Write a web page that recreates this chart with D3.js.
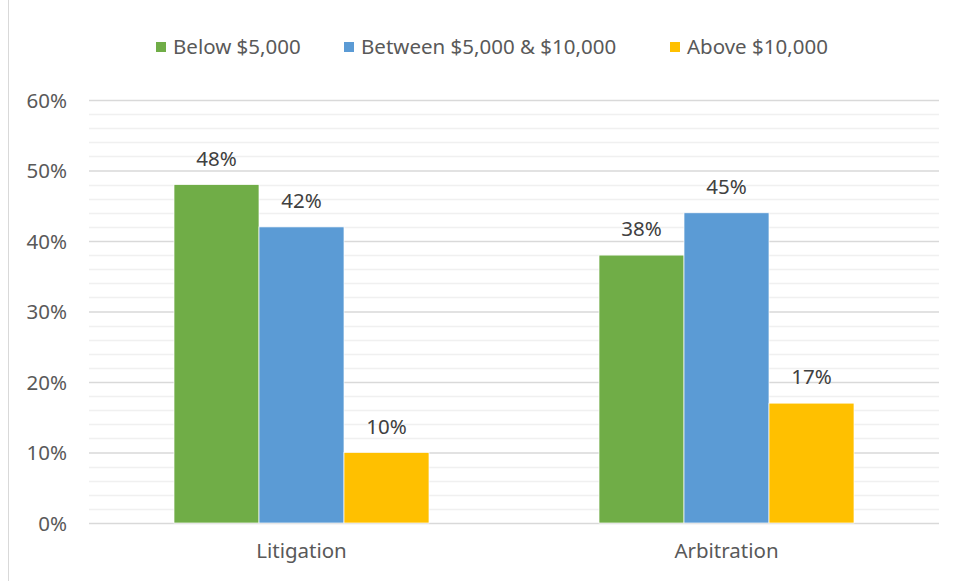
<!DOCTYPE html>
<html><head><meta charset="utf-8">
<script src="https://cdn.jsdelivr.net/npm/d3@7"></script>
<style>body{margin:0;background:#fff}svg{display:block}text{font-family:"Noto Sans",sans-serif}</style>
</head><body><svg id="c" width="953" height="581"></svg>
<script>
const categories = ["Litigation", "Arbitration"];
const seriesNames = ["Below $5,000", "Between $5,000 & $10,000", "Above $10,000"];
const seriesColors = ["#70AD47", "#5B9BD5", "#FFC000"];
const belowValues = [48, 38];
const betweenValues = [42, 44];
const aboveValues = [10, 17];
const belowLabels = ["48%", "38%"];
const betweenLabels = ["42%", "45%"];
const aboveLabels = ["10%", "17%"];
const yTicks = [0, 10, 20, 30, 40, 50, 60];

const series = [belowValues, betweenValues, aboveValues];
const labels = [belowLabels, betweenLabels, aboveLabels];
const FS = "20.5px";

const svg = d3.select("#c");
const W = 953, H = 581;
const m = {left: 89, right: 14, top: 100, bottom: 58};
const y = d3.scaleLinear().domain([0, 60]).range([H - m.bottom, m.top]);
const x0 = d3.scaleBand().domain(categories).range([m.left, W - m.right]).paddingInner(0).paddingOuter(0);
const groupW = x0.bandwidth() * 0.6;
const x1 = d3.scaleBand().domain(d3.range(series.length)).range([0, groupW]).padding(0);

// outer border line
svg.append("line").attr("x1", 8.5).attr("x2", 8.5).attr("y1", 0).attr("y2", H).attr("stroke", "#d9d9d9");

// minor gridlines
const minor = d3.range(0, 61, 2).filter(v => v % 10 !== 0);
svg.append("g").selectAll("line").data(minor).join("line")
  .attr("x1", m.left).attr("x2", W - m.right)
  .attr("y1", d => Math.round(y(d)) + 0.5).attr("y2", d => Math.round(y(d)) + 0.5)
  .attr("stroke", "#f0f0f0").attr("stroke-width", 1.3);
// major gridlines via axis
const yAxis = d3.axisLeft(y).tickValues(yTicks).tickFormat(d => d + "%").tickSize(-(W - m.left - m.right)).tickPadding(22);
const ga = svg.append("g").attr("transform", `translate(${m.left},0)`).call(yAxis);
ga.select(".domain").remove();
ga.selectAll(".tick line").attr("stroke", "#d9d9d9").attr("stroke-width", 1.3);
ga.selectAll(".tick text").attr("fill", "#595959").style("font-size", FS).attr("dy", "0.35em");

// bars
const groups = svg.append("g").selectAll("g").data(categories).join("g")
  .attr("transform", d => `translate(${x0(d) + (x0.bandwidth() - groupW) / 2},0)`);
groups.each(function(cat, ci) {
  const g = d3.select(this);
  series.forEach((vals, si) => {
    g.append("rect")
      .attr("x", x1(si)).attr("width", x1.bandwidth())
      .attr("y", y(vals[ci])).attr("height", y(0) - y(vals[ci]))
      .attr("fill", seriesColors[si]).attr("stroke", "#fff").attr("stroke-width", 0.7);
    g.append("text")
      .attr("x", x1(si) + x1.bandwidth() / 2).attr("y", y(vals[ci]) - 19)
      .attr("text-anchor", "middle").attr("fill", "#404040").style("font-size", FS)
      .text(labels[si][ci]);
  });
});

// x axis labels
const xAxis = d3.axisBottom(x0).tickSize(0).tickPadding(20);
const gx = svg.append("g").attr("transform", `translate(0,${y(0)})`).call(xAxis);
gx.select(".domain").remove();
gx.selectAll(".tick text").attr("fill", "#595959").style("font-size", FS);

// legend
const legendX = [156, 344, 670];
const lg = svg.append("g").selectAll("g").data(seriesNames).join("g")
  .attr("transform", (d, i) => `translate(${legendX[i]},47)`);
lg.append("rect").attr("x", 0).attr("y", -5).attr("width", 10).attr("height", 10).attr("fill", (d, i) => seriesColors[i]);
lg.append("text").attr("x", 17).attr("dy", "0.35em").attr("fill", "#595959").style("font-size", FS).text(d => d);
</script></body></html>
